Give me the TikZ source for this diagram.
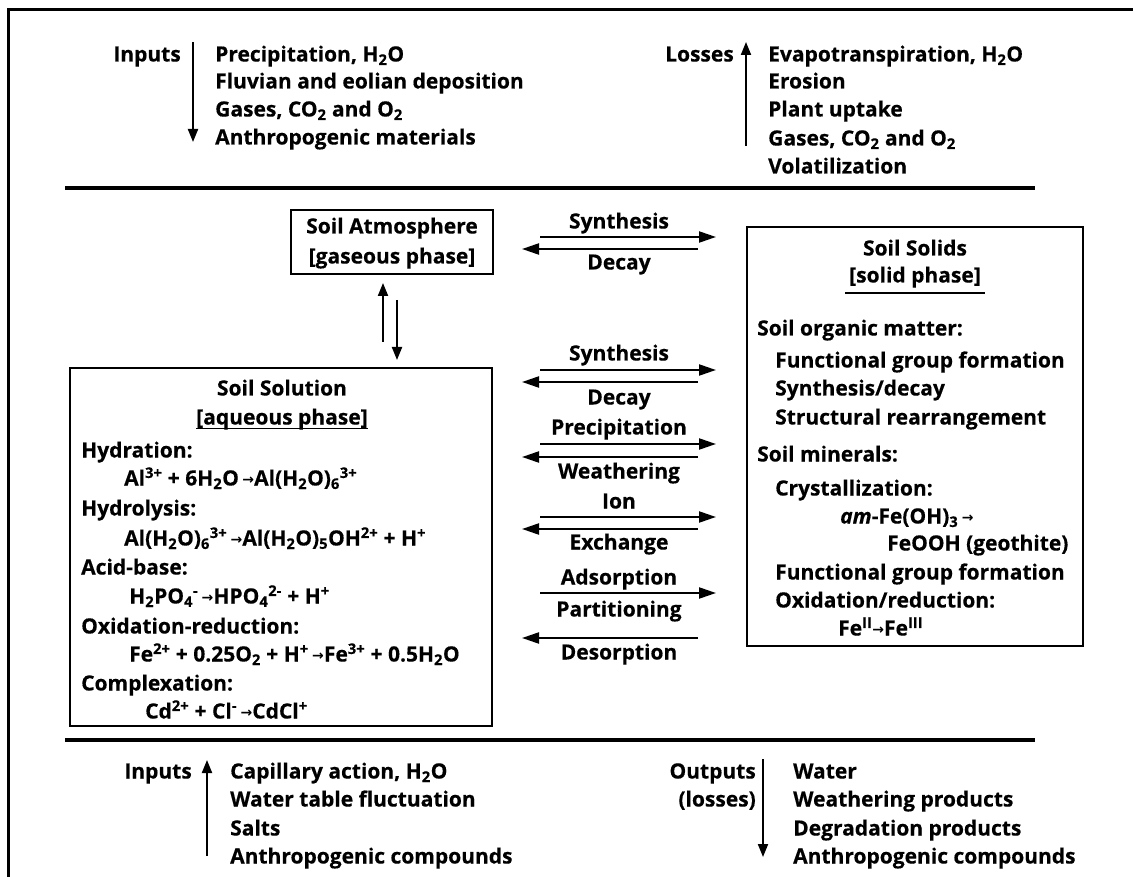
\documentclass[tikz,border=0pt]{standalone}
\usepackage{fontspec}
\setmainfont{Open Sans}[BoldFeatures={FakeBold=0.4},BoldItalicFeatures={FakeBold=0.4}]
\newfontfamily\arrowfont{DejaVu Sans}
\usetikzlibrary{arrows.meta}
\newcommand{\ra}{{\arrowfont\bfseries\fontsize{14}{14}\selectfont\raisebox{1.5pt}{→}}}
\newcommand{\tsub}[1]{\textsubscript{#1}}
\newcommand{\tsup}[1]{\textsuperscript{#1}}
\tikzset{
  txt/.style={anchor=west, inner sep=0pt, text height=16pt, text depth=3pt, font=\bfseries\fontsize{21}{24}\selectfont},
  ctr/.style={txt, anchor=center},
  rgt/.style={txt, anchor=east},
  box/.style={draw, line width=1.8pt, inner sep=0pt},
  arr/.style={line width=2pt, -{Triangle[length=13pt,width=10pt]}},
  harr/.style={line width=2.2pt, -{Triangle[length=17pt,width=11pt]}},
  thick rule/.style={line width=4pt},
  uline/.style={line width=1.4pt}
}
\begin{document}
\begin{tikzpicture}[x=1pt,y=-1pt]
\useasboundingbox (0,0) rectangle (1133,877);
% frame
\coordinate (f1) at (8,877); \coordinate (f2) at (8,10); \coordinate (f3) at (1133,10);
\draw[line width=3pt] (f1) -- (f2) -- (f3);
% rules
\coordinate (r1a) at (65,188); \coordinate (r1b) at (1035,188);
\coordinate (r2a) at (65,740); \coordinate (r2b) at (1035,740);
\draw[thick rule] (r1a) -- (r1b);
\draw[thick rule] (r2a) -- (r2b);

% ---- top inputs
\node[rgt] (inT) at (181,55) {Inputs};
\coordinate (inTa) at (193,42); \coordinate (inTb) at (193,142);
\draw[arr] (inTa) -- (inTb);
\node[txt] (inT1) at (215,55) {Precipitation, H\tsub{2}O};
\node[txt] (inT2) at (215,82) {Fluvian and eolian deposition};
\node[txt] (inT3) at (215,110) {Gases, CO\tsub{2} and O\tsub{2}};
\node[txt] (inT4) at (215,138) {Anthropogenic materials};

% ---- top losses
\node[rgt] (loT) at (734,55) {Losses};
\coordinate (loTa) at (746,146); \coordinate (loTb) at (746,42);
\draw[arr] (loTa) -- (loTb);
\node[txt] (loT1) at (768,55) {Evapotranspiration, H\tsub{2}O};
\node[txt] (loT2) at (768,82) {Erosion};
\node[txt] (loT3) at (768,110) {Plant uptake};
\node[txt] (loT4) at (768,139) {Gases, CO\tsub{2} and O\tsub{2}};
\node[txt] (loT5) at (768,167) {Volatilization};

% ---- soil atmosphere
\node[box, minimum width=202pt, minimum height=64pt] (atm) at (392,242) {};
\node[ctr] (atm1) at (392,227) {Soil Atmosphere};
\node[ctr] (atm2) at (392,257) {[gaseous phase]};

% vertical arrows
\coordinate (vu1) at (383,342); \coordinate (vu2) at (383,283);
\coordinate (vd1) at (397,300); \coordinate (vd2) at (397,360);
\draw[arr] (vu1) -- (vu2);
\draw[arr] (vd1) -- (vd2);

% ---- soil solution
\node[box, minimum width=422pt, minimum height=358pt] (sol) at (281,547) {};
\node[ctr] (sol1) at (282,389) {Soil Solution};
\node[ctr] (sol2) at (282,418) {[aqueous phase]};
\draw[uline] ([yshift=-1pt]sol2.south west) -- ([yshift=-1pt]sol2.south east);
\node[txt] (s1) at (81,451) {Hydration:};
\node[txt] (s2) at (124,479) {Al\tsup{3+} + 6H\tsub{2}O\,\ra Al(H\tsub{2}O)\tsub{6}\tsup{3+}};
\node[txt] (s3) at (81,509) {Hydrolysis:};
\node[txt] (s4) at (124,539) {Al(H\tsub{2}O)\tsub{6}\tsup{3+}\,\ra Al(H\tsub{2}O)\tsub{5}OH\tsup{2+} + H\tsup{+}};
\node[txt] (s5) at (81,568) {Acid-base:};
\node[txt] (s6) at (129,597) {H\tsub{2}PO\tsub{4}\tsup{-}\,\ra HPO\tsub{4}\tsup{2-} + H\tsup{+}};
\node[txt] (s7) at (81,627) {Oxidation-reduction:};
\node[txt] (s8) at (129,655) {Fe\tsup{2+} + 0.25O\tsub{2} + H\tsup{+}\,\ra Fe\tsup{3+} + 0.5H\tsub{2}O};
\node[txt] (s9) at (81,684) {Complexation:};
\node[txt] (s10) at (145,712) {Cd\tsup{2+} + Cl\tsup{-}\,\ra CdCl\tsup{+}};

% ---- soil solids
\node[box, minimum width=336pt, minimum height=419pt] (sld) at (915,436.5) {};
\node[ctr] (sd1) at (915,249) {Soil Solids};
\node[ctr] (sd2) at (915,276) {[solid phase]};
\coordinate (ul1) at (845,293); \coordinate (ul2) at (985,293);
\draw[uline] (ul1) -- (ul2);
\node[txt] (d1) at (757,329) {Soil organic matter:};
\node[txt] (d2) at (775,361) {Functional group formation};
\node[txt] (d3) at (775,389) {Synthesis/decay};
\node[txt] (d4) at (775,418) {Structural rearrangement};
\node[txt] (d5) at (757,455) {Soil minerals:};
\node[txt] (d6) at (775,489) {Crystallization:};
\node[txt] (d7) at (840,517) {\textit{am}-Fe(OH)\tsub{3}\,\ra};
\node[txt] (d8) at (887,544) {FeOOH (geothite)};
\node[txt] (d9) at (775,573) {Functional group formation};
\node[txt] (d10) at (775,601) {Oxidation/reduction:};
\node[txt] (d11) at (838,629) {Fe\tsup{II}\ra Fe\tsup{III}};

% ---- exchange arrows
\foreach \n/\yr/\yl in {a/237/249, b/370/382, c/444/457, d/517/529}{
  \coordinate (R\n1) at (540,\yr); \coordinate (R\n2) at (716,\yr);
  \coordinate (L\n1) at (698,\yl); \coordinate (L\n2) at (522,\yl);
  \draw[harr] (R\n1) -- (R\n2);
  \draw[harr] (L\n1) -- (L\n2);
}
\coordinate (Re1) at (540,593); \coordinate (Re2) at (716,593);
\coordinate (Le1) at (698,638); \coordinate (Le2) at (522,638);
\draw[harr] (Re1) -- (Re2);
\draw[harr] (Le1) -- (Le2);
\node[ctr] (m1) at (619,222) {Synthesis};
\node[ctr] (m2) at (619,263) {Decay};
\node[ctr] (m3) at (619,354) {Synthesis};
\node[ctr] (m4) at (619,398) {Decay};
\node[ctr] (m5) at (619,428) {Precipitation};
\node[ctr] (m6) at (619,472) {Weathering};
\node[ctr] (m7) at (619,502) {Ion};
\node[ctr] (m8) at (619,543) {Exchange};
\node[ctr] (m9) at (619,578) {Adsorption};
\node[ctr] (m10) at (619,610) {Partitioning};
\node[ctr] (m11) at (619,653) {Desorption};

% ---- bottom inputs
\node[rgt] (inB) at (192,772) {Inputs};
\coordinate (inBa) at (207,856); \coordinate (inBb) at (207,760);
\draw[arr] (inBa) -- (inBb);
\node[txt] (inB1) at (230,772) {Capillary action, H\tsub{2}O};
\node[txt] (inB2) at (230,800) {Water table fluctuation};
\node[txt] (inB3) at (230,829) {Salts};
\node[txt] (inB4) at (230,857) {Anthropogenic compounds};

% ---- bottom outputs
\node[rgt] (ouB) at (756,772) {Outputs};
\node[rgt] (ouB2) at (756,800) {(losses)};
\coordinate (ouBa) at (763,759); \coordinate (ouBb) at (763,857);
\draw[arr] (ouBa) -- (ouBb);
\node[txt] (ouB1) at (793,772) {Water};
\node[txt] (ouB3) at (793,800) {Weathering products};
\node[txt] (ouB4) at (793,829) {Degradation products};
\node[txt] (ouB5) at (793,857) {Anthropogenic compounds};
\end{tikzpicture}
\end{document}
